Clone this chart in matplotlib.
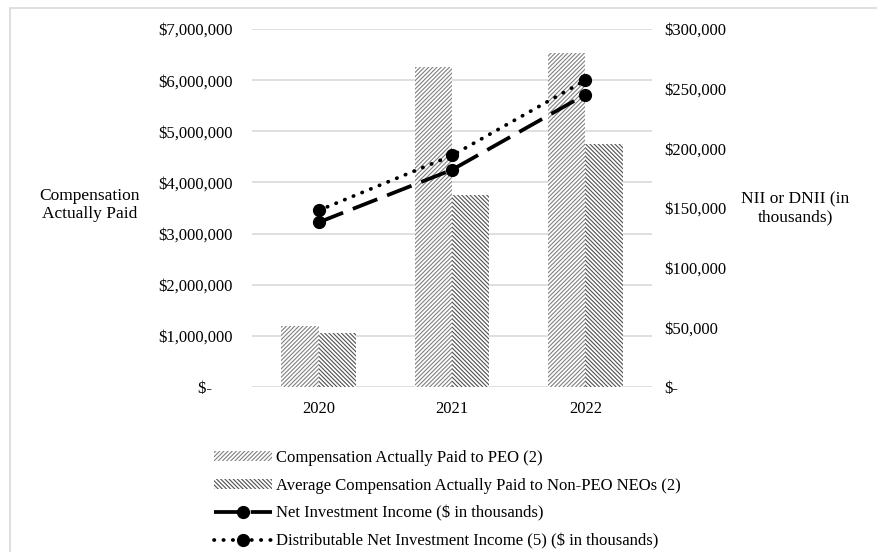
import matplotlib
matplotlib.use("Agg")
import matplotlib.pyplot as plt
from matplotlib.ticker import FuncFormatter
from matplotlib.patches import Rectangle
import numpy as np

plt.rcParams['font.family'] = ['Liberation Serif', 'DejaVu Serif']
plt.rcParams['font.size'] = 12
plt.rcParams['hatch.linewidth'] = 0.8

years = ['2020', '2021', '2022']
cap_peo = [1200000, 6250000, 6530000]
cap_non_peo = [1060000, 3760000, 4760000]
nii = [138000, 182000, 245000]
dnii = [148000, 194000, 257000]

fig = plt.figure(figsize=(8.77, 5.52), dpi=100)
# outer chart border (only top and left edges visible in the crop)
fig.patches.append(Rectangle((10 / 877, -0.1), 1.2, 1 - 8 / 552 + 0.1,
                             transform=fig.transFigure, fill=False,
                             edgecolor='#d9d9d9', linewidth=1.2))

ax = fig.add_axes([252 / 877, 1 - 387 / 552, 400 / 877, 358 / 552])
ax2 = ax.twinx()

x = np.arange(len(years))
w = 0.28
ax.bar(x - w / 2, cap_peo, w, color='white', edgecolor='#808080',
       linewidth=0, hatch='////////', label='Compensation Actually Paid to PEO (2)', zorder=2)
ax.bar(x + w / 2, cap_non_peo, w, color='white', edgecolor='#505050',
       linewidth=0, hatch='\\\\\\\\\\\\\\\\',
       label='Average Compensation Actually Paid to Non-PEO NEOs (2)', zorder=2)

ax.set_ylim(0, 7000000)
ax.set_xlim(-0.5, 2.5)
ax.set_yticks(np.arange(0, 7000001, 1000000))
ax.set_xticks(x)
ax.set_xticklabels(years)
ax.yaxis.grid(True, color='#d9d9d9', linewidth=1.2, zorder=0)
ax.set_axisbelow(True)

def money_left(v, pos):
    if v == 0:
        return '$-     '
    return '${:,.0f}'.format(v)

def money_right(v, pos):
    if v == 0:
        return '$-'
    return '${:,.0f}'.format(v)

ax.yaxis.set_major_formatter(FuncFormatter(money_left))
ax.tick_params(length=0, pad=14)
ax.tick_params(axis='x', pad=10)

ax2.plot(x, nii, color='black', linewidth=2.7, linestyle=(0, (7, 2.8)),
         marker='o', markersize=8.5, label='Net Investment Income ($ in thousands)')
ax2.plot(x, dnii, color='black', linewidth=2.7, linestyle=(0, (0.1, 2.4)),
         dash_capstyle='round', marker='o', markersize=8.5,
         label='Distributable Net Investment Income (5) ($ in thousands)')
ax2.set_ylim(0, 300000)
ax2.set_yticks(np.arange(0, 300001, 50000))
ax2.yaxis.set_major_formatter(FuncFormatter(money_right))
ax2.tick_params(length=0, pad=9)

for a in (ax, ax2):
    for s in a.spines.values():
        s.set_visible(False)

fig.text(90 / 877, 1 - 205 / 552, 'Compensation\nActually Paid', ha='center',
         va='center', linespacing=1.15, fontsize=12.5)
fig.text(795 / 877, 1 - 208 / 552, 'NII or DNII (in\nthousands)', ha='center',
         va='center', linespacing=1.15, fontsize=12.5)

h1, l1 = ax.get_legend_handles_labels()
h2, l2 = ax2.get_legend_handles_labels()
fig.legend(h1 + h2, l1 + l2, loc='upper left',
           bbox_to_anchor=(214 / 877, 1 - 450 / 552), frameon=False,
           handlelength=3.5, handleheight=0.6, handletextpad=0.2,
           labelspacing=0.7, borderaxespad=0, borderpad=0)

fig.savefig('out.png', dpi=100)
